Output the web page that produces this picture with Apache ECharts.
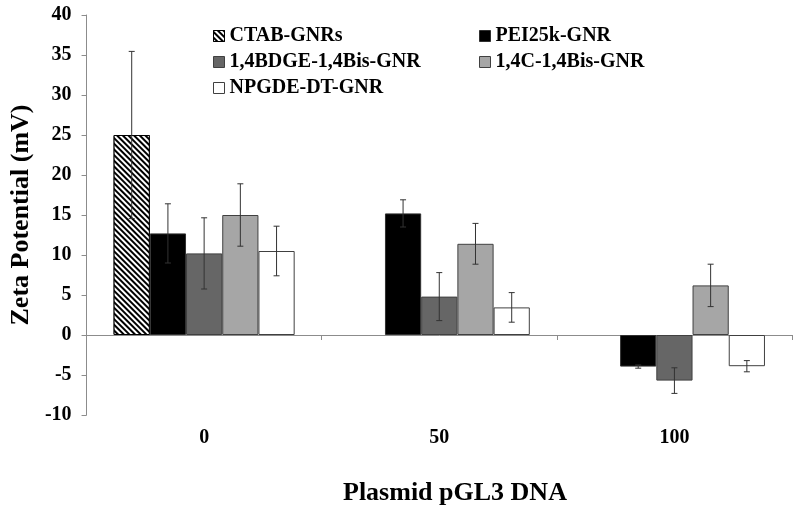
<!DOCTYPE html>
<html>
<head>
<meta charset="utf-8">
<script src="https://cdn.jsdelivr.net/npm/echarts@6/dist/echarts.min.js"></script>
<style>
html,body{margin:0;padding:0;background:#fff;overflow:hidden;}
#chart{width:800px;height:517px;}
</style>
</head>
<body>
<div id="chart"></div>
<script>
// ---- data ----
var categories = ['0', '50', '100'];
var seriesNames = ['CTAB-GNRs', 'PEI25k-GNR', '1,4BDGE-1,4Bis-GNR', '1,4C-1,4Bis-GNR', 'NPGDE-DT-GNR'];
var ctabValues  = [25.0, null, null];
var ctabErrors  = [10.45, null, null];
var peiValues   = [12.7, 15.2, -3.95];
var peiErrors   = [3.7, 1.7, 0.2];
var bdgeValues  = [10.2, 4.8, -5.7];
var bdgeErrors  = [4.45, 3.0, 1.6];
var c14Values   = [15.0, 11.4, 6.2];
var c14Errors   = [3.9, 2.55, 2.65];
var npgdeValues = [10.5, 3.45, -3.9];
var npgdeErrors = [3.1, 1.85, 0.7];
var yTicks = { min: -10, max: 40, interval: 5 };

var allValues = [ctabValues, peiValues, bdgeValues, c14Values, npgdeValues];
var allErrors = [ctabErrors, peiErrors, bdgeErrors, c14Errors, npgdeErrors];

// ---- styles ----
var FONT = 'Liberation Serif';
var fills = ['#ffffff', '#000000', '#666666', '#a6a6a6', '#ffffff'];
var borders = ['#000000', '#303030', '#404040', '#404040', '#404040'];
var CAT_GAP = 0.23;
var N = seriesNames.length;

var series = [];
for (var s = 0; s < N; s++) {
  var itemStyle = { color: fills[s], borderColor: borders[s], borderWidth: 1 };
  if (s === 0) {
    itemStyle.decal = {
      symbol: 'rect',
      symbolSize: 1,
      dashArrayX: [1, 0],
      dashArrayY: [1.5, 1.5],
      rotation: Math.PI / 4,
      color: '#000000',
      backgroundColor: '#ffffff'
    };
  }
  series.push({
    name: seriesNames[s],
    type: 'bar',
    data: allValues[s].map(function (v) { return v === null ? '-' : v; }),
    barGap: '0%',
    barCategoryGap: (CAT_GAP * 100) + '%',
    itemStyle: itemStyle,
    emphasis: { disabled: true },
    z: 2
  });
}

// error bars
var errData = [];
for (var s2 = 0; s2 < N; s2++) {
  for (var c = 0; c < categories.length; c++) {
    if (allValues[s2][c] !== null && allErrors[s2][c] !== null) {
      errData.push([c, allValues[s2][c], allErrors[s2][c], s2]);
    }
  }
}
series.push({
  type: 'custom',
  name: 'err',
  z: 5,
  silent: true,
  data: errData,
  renderItem: function (params, api) {
    var c = api.value(0), v = api.value(1), e = api.value(2), si = api.value(3);
    var catW = api.size([1, 0])[0];
    var barW = catW * (1 - CAT_GAP) / N;
    var center = api.coord([c, v]);
    var x = center[0] + (si - (N - 1) / 2) * barW;
    var top = api.coord([c, v + e])[1];
    var bot = api.coord([c, v - e])[1];
    var cap = 3;
    var st = { stroke: '#333333', lineWidth: 1 };
    return {
      type: 'group',
      children: [
        { type: 'line', shape: { x1: x, y1: top, x2: x, y2: bot }, style: st },
        { type: 'line', shape: { x1: x - cap, y1: top, x2: x + cap, y2: top }, style: st },
        { type: 'line', shape: { x1: x - cap, y1: bot, x2: x + cap, y2: bot }, style: st }
      ]
    };
  }
});

var legendText = { fontFamily: FONT, fontWeight: 'bold', fontSize: 20, color: '#000', lineHeight: 20 };

var option = {
  animation: false,
  backgroundColor: '#ffffff',
  grid: { left: 80, right: 8, top: 15, bottom: 102, containLabel: false },
  legend: [
    {
      data: [seriesNames[0], seriesNames[2], seriesNames[4]],
      orient: 'vertical', left: 213, top: 26, itemGap: 6, padding: 0,
      itemWidth: 11, itemHeight: 11, icon: 'rect', itemStyle: { borderWidth: 1 },
      textStyle: legendText, selectedMode: false
    },
    {
      data: [seriesNames[1], seriesNames[3]],
      orient: 'vertical', left: 479, top: 26, itemGap: 6, padding: 0,
      itemWidth: 11, itemHeight: 11, icon: 'rect', itemStyle: { borderWidth: 1 },
      textStyle: legendText, selectedMode: false
    }
  ],
  xAxis: [
    {
      type: 'category',
      data: categories,
      axisLine: { onZero: true, lineStyle: { color: '#8c8c8c', width: 1 } },
      axisTick: { show: true, length: 5, lineStyle: { color: '#8c8c8c' } },
      axisLabel: { show: false },
      splitLine: { show: false }
    },
    {
      type: 'category',
      data: categories,
      position: 'bottom',
      axisLine: { show: false, onZero: false },
      axisTick: { show: false },
      axisLabel: { margin: 13, fontFamily: FONT, fontWeight: 'bold', fontSize: 20, color: '#000' },
      splitLine: { show: false }
    }
  ],
  yAxis: {
    type: 'value',
    min: yTicks.min, max: yTicks.max, interval: yTicks.interval,
    name: 'Zeta Potential (mV)',
    nameLocation: 'middle',
    nameGap: 44,
    nameTextStyle: { fontFamily: FONT, fontWeight: 'bold', fontSize: 26, color: '#000' },
    axisLine: { show: true, lineStyle: { color: '#8c8c8c', width: 1 } },
    axisTick: { show: true, length: 5, lineStyle: { color: '#8c8c8c' } },
    axisLabel: { margin: 15, fontFamily: FONT, fontWeight: 'bold', fontSize: 20, color: '#000' },
    splitLine: { show: false }
  },
  graphic: [
    {
      type: 'text',
      left: 343,
      top: 480,
      style: { text: 'Plasmid pGL3 DNA', font: 'bold 26px "Liberation Serif"', fill: '#000' }
    }
  ],
  series: series
};

var chart = echarts.init(document.getElementById('chart'), null, { renderer: 'canvas' });
chart.setOption(option);
</script>
</body>
</html>
